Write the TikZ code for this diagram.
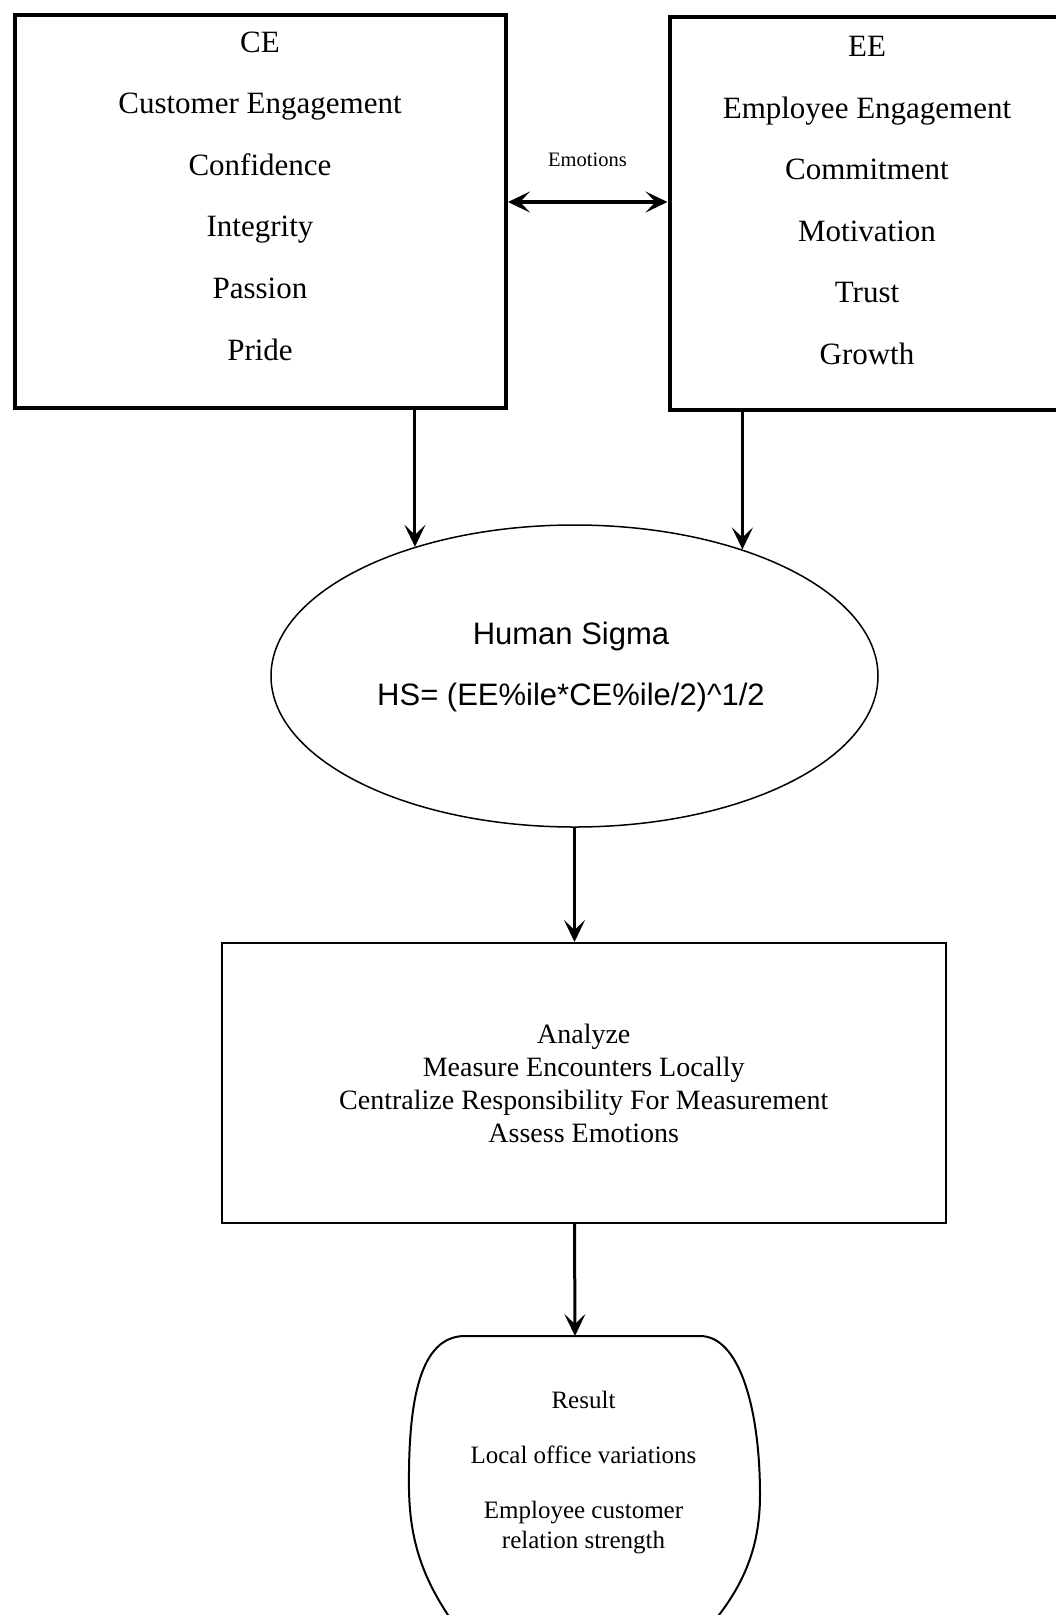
\documentclass[tikz,border=0pt]{standalone}
\usepackage{fontspec}
\setmainfont{Liberation Serif}
\newfontfamily\hsfont{Liberation Sans}
\usetikzlibrary{arrows.meta,shapes.geometric}

\begin{document}
\begin{tikzpicture}[x=1pt,y=-1pt,
  heavybox/.style={draw, line width=4pt, inner sep=0pt},
  lightbox/.style={draw, line width=2pt, inner sep=0pt},
  boxtext/.style={align=center, inner sep=0pt, font=\fontsize{31}{61.6}\selectfont},
  tip/.style={Stealth[length=22pt,width=21pt,inset=10pt]},
  flow/.style={line width=3pt, -{Stealth[length=22pt,width=21pt,inset=10pt]}},
  bothway/.style={line width=3.5pt, {Stealth[length=22pt,width=21pt,inset=10pt]}-{Stealth[length=22pt,width=21pt,inset=10pt]}}]
\useasboundingbox (0,0) rectangle (1056,1615);
\clip (0,0) rectangle (1056,1615);

% upper pair of boxes
\node[heavybox, minimum width=491.5pt, minimum height=393.5pt] (ce) at (260.25,211.25) {};
\node[boxtext] (cetext) at (260,196) {CE\\Customer Engagement\\Confidence\\Integrity\\Passion\\Pride};

\node[heavybox, minimum width=396.5pt, minimum height=393.5pt] (ee) at (867.75,213.25) {};
\node[boxtext] (eetext) at (867,200.5) {EE\\Employee Engagement\\Commitment\\Motivation\\Trust\\Growth};

% link between the two boxes
\coordinate (emo) at (587,202);
\node[font=\fontsize{20.5}{24}\selectfont, inner sep=0pt] (emolabel) at (587.5,160) {Emotions};
\draw[bothway] (ce.east |- emo) -- (ee.west |- emo);

% Human Sigma ellipse
\node[ellipse, draw, line width=1.5pt, inner sep=0pt, minimum width=607pt, minimum height=302pt] (hs) at (574.5,676) {};
\node[align=center, inner sep=0pt, font=\hsfont\fontsize{31}{61}\selectfont] (hstext) at (571,667) {Human Sigma\\HS= (EE\%ile*CE\%ile/2)\^{}1/2};

\draw[flow] (hs.141.9 |- ce.south) -- (hs.141.9);
\draw[flow] (hs.37.9 |- ee.south) -- (hs.37.9);

% analysis box
\node[lightbox, minimum width=724.5pt, minimum height=280pt, align=center, font=\fontsize{28}{33}\selectfont] (an) at (583.75,1083)
  {Analyze\\Measure Encounters Locally\\Centralize Responsibility For Measurement\\Assess Emotions};
\draw[flow] (hs.south) -- (hs.south |- an.north);

% result shape
\coordinate (restop) at (575,1336);
\draw[line width=2pt] (460,1632) .. controls (425,1585) and (410,1545) .. (409,1490)
  .. controls (408,1400) and (420,1336) .. (465,1336) -- (700,1336)
  .. controls (740,1336) and (760,1410) .. (760,1495)
  .. controls (760,1550) and (742,1590) .. (705,1632);
\node[align=center, inner sep=0pt, font=\fontsize{25}{30}\selectfont] (res) at (583.5,1473)
  {Result\\[25pt]Local office variations\\[25pt]Employee customer\\relation strength};
\draw[flow] (hs.south |- an.south) -- (restop);
\end{tikzpicture}
\end{document}
